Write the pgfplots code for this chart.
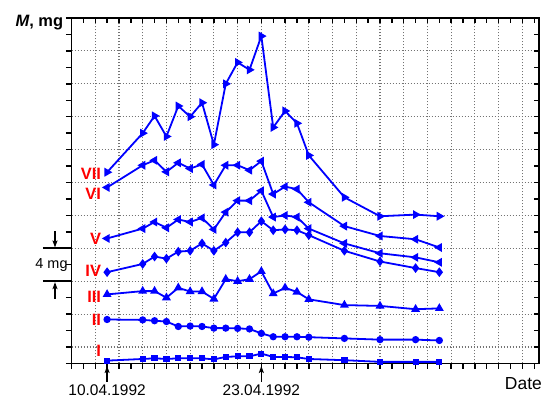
\documentclass[border=0pt]{standalone}
\usepackage{fontspec}
\setmainfont{Liberation Sans}
\usepackage{pgfplots}
\usepackage{pgfplotstable}
\pgfplotsset{compat=1.18}
\usetikzlibrary{arrows.meta}

\definecolor{lineblue}{RGB}{0,0,255}
\definecolor{gridgray}{RGB}{115,115,115}

\pgfplotstableread{
d  I    II   III   IV    V     VI    VII
10 0.35 5.35 8.4   11.1  15.2  21.4  23.25
13 0.55 5.3  8.8   12.1  16.4  24.1  28.0
14 0.63 5.2  8.8   13.0  17.2  24.7  30.1
15 0.55 5.1  8.0   12.75 16.5  23.3  27.6
16 0.63 4.5  9.2   13.6  17.5  24.4  31.3
17 0.63 4.55 8.75  13.7  17.2  23.7  30.0
18 0.63 4.5  8.75  14.6  17.7  24.2  31.7
19 0.5  4.3  7.85  13.7  16.3  21.7  26.6
20 0.8  4.3  10.25 14.7  18.4  24.1  34.0
21 0.87 4.27 10.0  15.95 19.8  24.1  36.6
22 0.87 4.2  10.25 15.95 19.8  23.5  35.7
23 1.2  3.66 11.2  17.3  21.0  24.6  39.8
24 0.8  3.25 8.5   16.2  17.8  20.6  28.7
25 0.8  3.25 9.2   16.3  18.0  21.5  30.7
26 0.75 3.25 8.7   16.2  17.8  21.2  29.2
27 0.55 3.2  7.8   15.6  16.4  19.6  25.3
30 0.4  3.05 7.1   13.7  14.6  16.7  20.2
33 0.2  2.9  7.0   12.4  13.4  15.5  17.9
36 0.2  2.9  6.6   11.6  12.9  15.1  18.1
38 0.2  2.8  6.7   11.1  12.3  14.1  17.9
}\data

\pgfplotsset{common/.style={scale only axis, width=467.5bp, height=345.5bp,
  xmin=7, xmax=46.4, ymin=0, ymax=42, xticklabels={}, yticklabels={}},
  ser/.style={lineblue, line width=1.8bp, mark options={solid}}}
\tikzset{arr/.style={-{Stealth[length=7bp,width=5bp,inset=1.5bp]}, line width=1.2bp}}

\begin{document}
\begin{tikzpicture}
% grid
\begin{axis}[common, axis line style={draw=none},
  xtick={9,11,...,45}, ytick={2,6,...,38}, grid=major,
  major grid style={gridgray, line width=1.1bp, dash pattern=on 1.4bp off 1.6bp},
  major tick length=0pt]
\end{axis}
% inward ticks top/right
\begin{axis}[common, axis line style={draw=none},
  xtick={7,...,46}, ytick={0,2,...,42}, tick align=inside,
  xtick pos=right, ytick pos=right, major tick length=5bp,
  tick style={black, line width=1.4bp}]
\end{axis}
% main
\begin{axis}[common, name=ax, clip=false,
  axis line style={black, line width=1.8bp},
  xtick={7,...,46}, ytick={0,2,...,42}, tick align=outside,
  xtick pos=left, ytick pos=left, major tick length=5.5bp,
  tick style={black, line width=1.4bp}]
\addplot[ser, mark=square*, mark size=2.2bp] table[x=d,y=I]{\data};
\addplot[ser, mark=*, mark size=2.7bp] table[x=d,y=II]{\data};
\addplot[ser, mark=triangle*, mark size=3.4bp] table[x=d,y=III]{\data};
\addplot[ser, mark=diamond*, mark size=3.4bp] table[x=d,y=IV]{\data};
\addplot[ser, mark=triangle*, mark size=3.4bp, mark options={rotate=90}] table[x=d,y=V]{\data};
\addplot[ser, mark=triangle*, mark size=3.4bp, mark options={rotate=90}] table[x=d,y=VI]{\data};
\addplot[ser, mark=triangle*, mark size=3.4bp, mark options={rotate=-90}] table[x=d,y=VII]{\data};

\begin{scope}[every node/.style={anchor=east, inner sep=0pt, text=red, font=\bfseries\fontsize{16.5}{16.5}\selectfont}]
\node at (axis cs:9.5,23.1) {VII};
\node at (axis cs:9.5,20.6) {VI};
\node at (axis cs:9.5,15.2) {V};
\node at (axis cs:9.5,11.3) {IV};
\node at (axis cs:9.5,8.1) {III};
\node at (axis cs:9.5,5.36) {II};
\node at (axis cs:9.5,1.55) {I};
\end{scope}

% date labels and arrows
\node[anchor=base, inner sep=0pt, font=\fontsize{15.5}{15.5}\selectfont] at ([yshift=-31.5bp]axis cs:10,0) {10.04.1992};
\node[anchor=base, inner sep=0pt, font=\fontsize{15.5}{15.5}\selectfont] at ([yshift=-31.5bp]axis cs:23,0) {23.04.1992};
\draw[arr] ([yshift=-18bp]axis cs:10,0) -- ([yshift=-2.5bp]axis cs:10,0);
\draw[arr] ([yshift=-18bp]axis cs:23,0) -- ([yshift=-2.5bp]axis cs:23,0);

% 4 mg bracket
\draw[line width=1.8bp] ([xshift=-28.5bp]axis cs:7,14) -- (axis cs:7,14);
\draw[line width=1.8bp] ([xshift=-28.5bp]axis cs:7,10) -- (axis cs:7,10);
\draw[arr] ([xshift=-16.5bp]axis cs:7,16.1) -- ([xshift=-16.5bp,yshift=0.9bp]axis cs:7,14);
\draw[arr] ([xshift=-16.5bp]axis cs:7,7.9) -- ([xshift=-16.5bp,yshift=-0.9bp]axis cs:7,10);
\node[inner sep=0pt, font=\fontsize{14.5}{14.5}\selectfont] at ([xshift=-20bp]axis cs:7,12) {4 mg};
\end{axis}

\node[anchor=base east, inner sep=0pt, font=\bfseries\fontsize{16.5}{16.5}\selectfont] at ([xshift=-8.2bp, yshift=-8.7bp]ax.north west) {\itshape M\upshape, mg};
\node[anchor=base east, inner sep=0pt, font=\fontsize{17.5}{17.5}\selectfont] at ([xshift=3bp, yshift=-25.5bp]ax.south east) {Date};

\pgfresetboundingbox
\path[use as bounding box] ([xshift=-71.5bp,yshift=-34.5bp]ax.south west) rectangle ++(547bp,398bp);
\end{tikzpicture}
\end{document}
